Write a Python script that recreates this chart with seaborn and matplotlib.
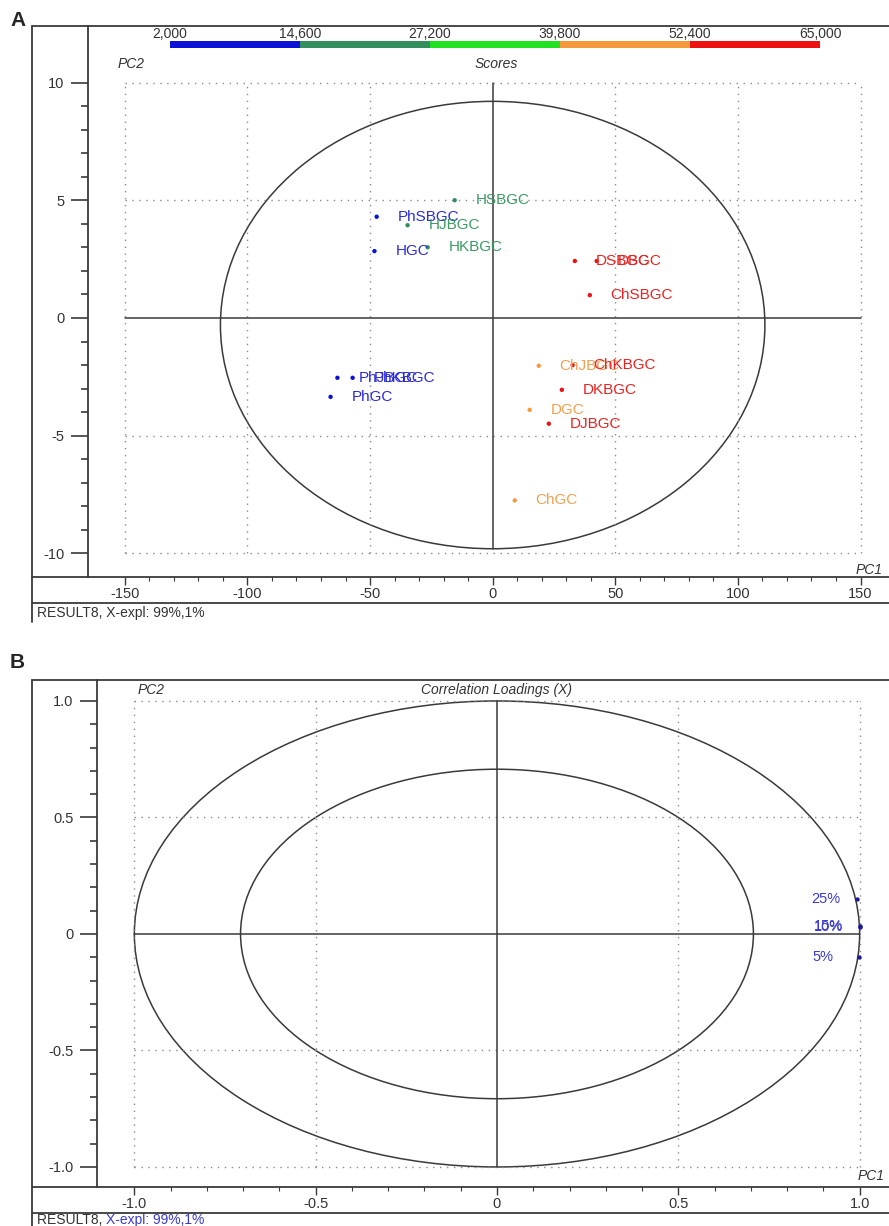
import numpy as np
import pandas as pd
import matplotlib
matplotlib.use("Agg")
import matplotlib.pyplot as plt
import seaborn as sns
from matplotlib.patches import Ellipse
from matplotlib.lines import Line2D
from matplotlib.colors import ListedColormap, BoundaryNorm
from matplotlib.ticker import FixedLocator
import matplotlib.colorbar as mcolorbar

# ---------------- data ----------------
# Panel A: PCA scores
score_names = ["HSBGC", "PhSBGC", "HJBGC", "HGC", "HKBGC",
               "PhJBGC", "PhKBGC", "PhGC",
               "DSBGC", "DBGC", "ChSBGC",
               "ChJBGC", "ChKBGC", "DKBGC", "DGC", "DJBGC", "ChGC"]
score_pc1 = [-15.5, -47.3, -34.7, -48.2, -26.5,
             -63.3, -57.1, -66.1,
             33.5, 42.4, 39.6,
             18.8, 32.6, 28.2, 15.1, 22.9, 9.0]
score_pc2 = [5.0, 4.3, 3.94, 2.84, 3.0,
             -2.54, -2.54, -3.35,
             2.42, 2.42, 0.97,
             -2.03, -2.0, -3.05, -3.9, -4.49, -7.75]
score_bin = [1, 0, 1, 0, 1,
             0, 0, 0,
             4, 4, 4,
             3, 4, 4, 3, 4, 3]
bar_bounds = [2.0, 14.6, 27.2, 39.8, 52.4, 65.0]
bar_labels = ["2,000", "14,600", "27,200", "39,800", "52,400", "65,000"]
bar_colors = ["#0b12d6", "#33905e", "#22e022", "#f59a3c", "#ee1111"]
text_colors = ["#2a2ad8", "#3d9a62", "#22c022", "#f2a050", "#ee2020"]

# Panel B: correlation loadings
load_names = ["25%", "10%", "15%", "5%"]
load_pc1 = [0.993, 1.0, 1.0, 0.997]
load_pc2 = [0.15, 0.03, 0.033, -0.10]

xticksA = [-150, -100, -50, 0, 50, 100, 150]
yticksA = [-10, -5, 0, 5, 10]
xticksB = [-1.0, -0.5, 0.0, 0.5, 1.0]
xticklabB = ["-1.0", "-0.5", "0", "0.5", "1.0"]
yticklabB = ["-1.0", "-0.5", "0", "0.5", "1.0"]

# ---------------- style ----------------
sns.set_style("white")
plt.rcParams["font.family"] = ["Liberation Sans", "DejaVu Sans"]
plt.rcParams["axes.unicode_minus"] = False

W, H = 889, 1226
fig = plt.figure(figsize=(W / 100, H / 100), dpi=100)
LC = "#3a3a3a"
TC = "#333333"


def fx(px):
    return px / W


def fy(py):
    return 1 - py / H


def fline(x0, y0, x1, y1, lw=1.3):
    fig.add_artist(Line2D([fx(x0), fx(x1)], [fy(y0), fy(y1)], color=LC, lw=lw,
                          transform=fig.transFigure))


def style_axes(ax):
    for s in ["top", "right"]:
        ax.spines[s].set_visible(False)
    for s in ["left", "bottom"]:
        ax.spines[s].set_color(LC)
        ax.spines[s].set_linewidth(1.3)
    ax.tick_params(axis="y", which="both", left=True, right=False)
    ax.tick_params(axis="x", which="both", bottom=True, top=False)
    ax.tick_params(axis="y", which="major", direction="out", length=12, width=1.2,
                   color=LC, labelsize=10.5, labelcolor=TC, pad=5)
    ax.tick_params(axis="y", which="minor", direction="out", length=5, width=1.2, color=LC)
    ax.tick_params(axis="x", which="major", direction="out", length=6, width=1.0,
                   color=LC, labelsize=10.5, labelcolor=TC, pad=1)
    ax.tick_params(axis="x", which="minor", direction="out", length=3, width=0.8, color=LC)
    ax.set_xlabel("")
    ax.set_ylabel("")


DOT = dict(color="#8a8a8a", lw=1.0, ls=(0, (1, 4)))

# ================= Panel A =================
axA = fig.add_axes([fx(88), fy(577), fx(889) - fx(88), (577 - 26) / H])
dfA = pd.DataFrame({"PC1": score_pc1, "PC2": score_pc2, "bin": score_bin, "name": score_names})
for gx in [-150, -100, -50, 50, 100, 150]:
    axA.plot([gx, gx], [-10, 10], **DOT)
for gy in [-10, -5, 5, 10]:
    axA.plot([-150, 150], [gy, gy], **DOT)
axA.plot([-150, 150], [0, 0], color=LC, lw=1.1)
axA.plot([0, 0], [-9.8, 10], color=LC, lw=1.1)
axA.add_patch(Ellipse((0, -0.3), 222, 19.0, fill=False, ec=LC, lw=1.1))
sns.scatterplot(data=dfA, x="PC1", y="PC2", hue="bin",
                palette={i: c for i, c in enumerate(bar_colors)}, s=10,
                linewidth=0, legend=False, ax=axA, zorder=3)
for n, x, y, b in zip(score_names, score_pc1, score_pc2, score_bin):
    axA.annotate(n, (x, y), xytext=(15, 0), textcoords="offset points",
                 ha="left", va="center", fontsize=11, color=text_colors[b])
axA.set_xlim(-165, 161.6)
axA.set_ylim(-11.0, 12.4)
axA.set_xticks(xticksA)
axA.set_xticklabels([str(v) for v in xticksA])
axA.set_yticks(yticksA)
axA.set_yticklabels([str(v) for v in yticksA])
axA.xaxis.set_minor_locator(FixedLocator(np.arange(-150, 151, 10)))
axA.yaxis.set_minor_locator(FixedLocator(np.arange(-10, 11, 1)))
style_axes(axA)
axA.text(-153, 10.8, "PC2", style="italic", fontsize=10, color=TC, ha="left", va="center")
axA.text(1.5, 10.8, "Scores", style="italic", fontsize=10, color=TC, ha="center", va="center")
axA.text(159, -10.7, "PC1", style="italic", fontsize=10, color=TC, ha="right", va="center")

# colour bar
cax = fig.add_axes([fx(170), fy(48), 650 / W, 7 / H])
cb = mcolorbar.ColorbarBase(cax, cmap=ListedColormap(bar_colors),
                            norm=BoundaryNorm(bar_bounds, 5), orientation="horizontal",
                            ticks=bar_bounds)
cb.outline.set_visible(False)
cax.xaxis.set_ticks_position("top")
cax.set_xticklabels(bar_labels)
cax.tick_params(length=0, labelsize=10, labelcolor=TC, pad=0)

# frame lines A
fline(32, 26, 889, 26)
fline(32, 26, 32, 622)
fline(32, 577, 88, 577)
fline(32, 603, 889, 603)
fig.text(fx(37), fy(613), "RESULT8, X-expl: 99%,1%", fontsize=10, color=TC, ha="left", va="center")
fig.text(fx(10), fy(20), "A", fontsize=15, fontweight="bold", ha="left", va="center")

# ================= Panel B =================
axB = fig.add_axes([fx(97), fy(1187), fx(889) - fx(97), (1187 - 680) / H])
dfB = pd.DataFrame({"PC1": load_pc1, "PC2": load_pc2, "name": load_names})
for gx in [-1, -0.5, 0.5, 1]:
    axB.plot([gx, gx], [-1, 1], **DOT)
for gy in [-1, -0.5, 0.5, 1]:
    axB.plot([-1, 1], [gy, gy], **DOT)
axB.plot([-1, 1], [0, 0], color=LC, lw=1.1)
axB.plot([0, 0], [-1, 1], color=LC, lw=1.1)
axB.add_patch(Ellipse((0, 0), 2, 2, fill=False, ec=LC, lw=1.1))
axB.add_patch(Ellipse((0, 0), 2 * np.sqrt(0.5), 2 * np.sqrt(0.5), fill=False, ec=LC, lw=1.1))
sns.scatterplot(data=dfB, x="PC1", y="PC2", color="#1a1a99", s=10, linewidth=0,
                legend=False, ax=axB, zorder=3)
for n, x, y in zip(load_names, load_pc1, load_pc2):
    axB.annotate(n, (x, y), xytext=(-33, 0), textcoords="offset points",
                 ha="left", va="center", fontsize=10.5, color="#3a3acc")
axB.set_xlim(-1.103, 1.081)
axB.set_ylim(-1.086, 1.09)
axB.set_xticks(xticksB)
axB.set_xticklabels(xticklabB)
axB.set_yticks(xticksB)
axB.set_yticklabels(yticklabB)
axB.xaxis.set_minor_locator(FixedLocator(np.linspace(-1, 1, 21)))
axB.yaxis.set_minor_locator(FixedLocator(np.linspace(-1, 1, 21)))
style_axes(axB)
axB.text(-0.99, 1.045, "PC2", style="italic", fontsize=10, color=TC, ha="left", va="center")
axB.text(0, 1.045, "Correlation Loadings (X)", style="italic", fontsize=10, color=TC,
         ha="center", va="center")
axB.text(1.07, -1.04, "PC1", style="italic", fontsize=10, color=TC, ha="right", va="center")

fline(32, 680, 889, 680)
fline(32, 680, 32, 1226)
fline(32, 1187, 97, 1187)
fline(32, 1213, 889, 1213)
t1 = fig.text(fx(37), fy(1220), "RESULT8, ", fontsize=10, color=TC, ha="left", va="center")
axB.annotate("X-expl: 99%,1%", xy=(1, 0.5), xycoords=t1, ha="left", va="center",
             fontsize=10, color="#3a3acc", annotation_clip=False)
fig.text(fx(10), fy(662), "B", fontsize=15, fontweight="bold", ha="left", va="center")

fig.savefig("out.png", dpi=100)
